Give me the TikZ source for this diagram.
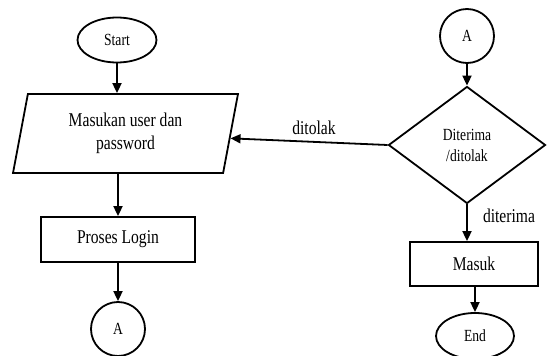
\documentclass[tikz,border=0pt]{standalone}
\usepackage{fontspec}
\setmainfont{Liberation Serif}[FakeStretch=0.8]
\usetikzlibrary{shapes.geometric,arrows.meta,calc}
\begin{document}
\begin{tikzpicture}[x=1pt,y=-1pt, line width=1.8pt,
  every node/.style={font=\fontsize{19.5}{23}\selectfont},
  box/.style={draw, rectangle, inner sep=0pt},
  term/.style={draw, ellipse, inner sep=0pt, font=\fontsize{17}{19}\selectfont},
  conn/.style={draw, circle, inner sep=0pt, minimum size=54pt, font=\fontsize{17}{19}\selectfont},
  arr/.style={-{Triangle[length=10pt,width=9pt]}},
  lbl/.style={inner sep=0pt}]
\useasboundingbox (0,0) rectangle (550,356);
\node[term, minimum width=79pt, minimum height=45pt] (start) at (117,40) {Start};
\node[draw, trapezium, trapezium left angle=78, trapezium right angle=102, trapezium stretches=true, minimum width=225pt, minimum height=79pt, inner sep=0pt, align=center] (inp) at (125.5,133.5) {Masukan user dan\\password};
\node[box, minimum width=154pt, minimum height=45pt] (login) at (118,239.5) {Proses Login};
\node[conn] (a1) at (118,329) {A};
\node[conn] (a2) at (467,36) {A};
\node[draw, diamond, minimum width=157pt, minimum height=117pt, inner sep=0pt, align=center, font=\fontsize{17}{21}\selectfont] (dia) at (467,145) {Diterima\\/ditolak};
\node[box, minimum width=128pt, minimum height=44pt] (masuk) at (474,264) {Masuk};
\node[term, minimum width=78pt, minimum height=46pt] (end) at (475,336) {End};
\node[lbl] (lt) at (314,128) {ditolak};
\node[lbl] (lr) at (509,216) {diterima};
\draw[arr] (start.south) -- (start.south |- inp.north);
\draw[arr] (login.north |- inp.south) -- (login.north);
\draw[arr] (login.south) -- (a1.north);
\draw[arr] (a2.south) -- (dia.north);
\draw[arr] (dia.south) -- (dia.south |- masuk.north);
\draw[arr] (end.north |- masuk.south) -- (end.north);
\draw[arr] (dia.west) -- ($(inp.top right corner)!0.56!(inp.bottom right corner)$);
\end{tikzpicture}
\end{document}
